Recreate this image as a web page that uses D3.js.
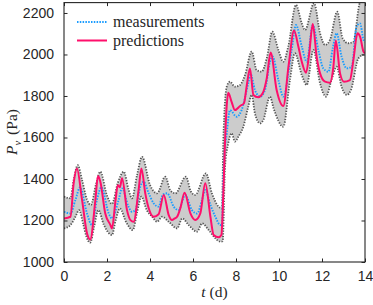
<!DOCTYPE html>
<html>
<head>
<meta charset="utf-8">
<script src="https://cdn.jsdelivr.net/npm/d3@7"></script>
<style>
  body { margin: 0; background: #fff; }
  .tick text { font-family: "Liberation Sans", Arial, sans-serif; font-size: 14px; fill: #262626; }
</style>
</head>
<body>
<div class="pv-chart"></div>
<script>
// predictions (magenta)
const predT = [0, 0.3, 0.45, 0.6, 0.84, 1.07, 1.22, 1.46, 1.58, 1.69, 1.92, 2.16, 2.23, 2.4, 2.5, 2.6, 2.7, 2.93, 3.09, 3.24, 3.47, 3.6, 3.78, 3.94, 4.17, 4.4, 4.64, 4.87, 5.02, 5.15, 5.26, 5.41, 5.61, 5.88, 6.11, 6.34, 6.57, 6.81, 6.96, 7.19, 7.32, 7.4, 7.48, 7.56, 7.64, 7.8, 7.95, 8.19, 8.37, 8.5, 8.65, 8.81, 9.04, 9.24, 9.43, 9.61, 9.89, 10.2, 10.45, 10.7, 10.9, 11.06, 11.26, 11.4, 11.57, 11.75, 11.91, 12.14, 12.37, 12.53, 12.64, 12.84, 13.02, 13.3, 13.46, 13.65, 13.77, 13.93, 14];
const predV = [1210, 1218, 1380, 1451, 1299, 1138, 1108, 1299, 1414, 1387, 1234, 1178, 1162, 1300, 1370, 1360, 1403, 1250, 1202, 1194, 1347, 1451, 1331, 1259, 1218, 1230, 1323, 1226, 1202, 1210, 1218, 1259, 1334, 1234, 1202, 1234, 1379, 1218, 1130, 1119, 1130, 1300, 1550, 1740, 1816, 1770, 1732, 1752, 1765, 1850, 1933, 1805, 1794, 1813, 1885, 2009, 1829, 1752, 1950, 2115, 2038, 1965, 1912, 2000, 2147, 1990, 1909, 1869, 1864, 1941, 2067, 1909, 1869, 1877, 1973, 2102, 2086, 2014, 2006];

// measurements (blue)
const measT = [0, 0.3, 0.53, 0.75, 1.07, 1.3, 1.53, 1.74, 2.08, 2.23, 2.54, 2.7, 3.0, 3.16, 3.32, 3.55, 3.7, 3.94, 4.17, 4.4, 4.6, 4.8, 5.1, 5.33, 5.64, 5.95, 6.19, 6.42, 6.57, 6.81, 7.04, 7.27, 7.35, 7.38, 7.45, 7.57, 7.72, 8.03, 8.26, 8.57, 8.68, 8.88, 9.12, 9.35, 9.58, 9.7, 9.97, 10.2, 10.59, 10.79, 11.06, 11.29, 11.57, 11.83, 12.06, 12.3, 12.5, 12.68, 12.91, 13.15, 13.38, 13.61, 13.77, 13.93, 14];
const measV = [1242, 1234, 1299, 1360, 1234, 1178, 1299, 1360, 1234, 1210, 1299, 1355, 1267, 1242, 1250, 1363, 1387, 1331, 1283, 1267, 1325, 1331, 1267, 1250, 1323, 1250, 1234, 1299, 1347, 1275, 1218, 1178, 1180, 1300, 1500, 1620, 1732, 1700, 1732, 1861, 1906, 1829, 1797, 1829, 1965, 1990, 1877, 1797, 2022, 2142, 2038, 1965, 2142, 2022, 1933, 1917, 2030, 2102, 1990, 1933, 1941, 2134, 2150, 2070, 2060];

// upper bound
const upperT = [0, 0.3, 0.45, 0.64, 0.84, 1.07, 1.25, 1.5, 1.69, 2.0, 2.23, 2.5, 2.78, 3.0, 3.16, 3.4, 3.63, 4.0, 4.33, 4.71, 4.95, 5.18, 5.67, 5.9, 6.1, 6.6, 6.88, 7.19, 7.35, 7.41, 7.57, 7.72, 7.95, 8.19, 8.42, 8.73, 8.96, 9.19, 9.43, 9.69, 9.97, 10.2, 10.43, 10.79, 11.06, 11.21, 11.63, 11.91, 12.14, 12.37, 12.71, 12.96, 13.22, 13.46, 13.77, 14];
const upperV = [1315, 1307, 1395, 1467, 1395, 1300, 1275, 1380, 1435, 1320, 1280, 1380, 1435, 1350, 1307, 1420, 1507, 1371, 1331, 1411, 1345, 1331, 1411, 1340, 1323, 1427, 1331, 1267, 1259, 1588, 1845, 1869, 1845, 1853, 1901, 2014, 1925, 1917, 1981, 2110, 2022, 1965, 2038, 2239, 2150, 2118, 2247, 2102, 2046, 2070, 2206, 2078, 2054, 2062, 2250, 2260];

// lower bound
const lowerT = [0, 0.3, 0.53, 0.7, 0.9, 1.05, 1.22, 1.4, 1.6, 1.85, 2.23, 2.4, 2.6, 2.9, 3.2, 3.4, 3.6, 3.85, 4.1, 4.33, 4.56, 4.87, 5.26, 5.5, 5.8, 6.19, 6.42, 6.73, 7.04, 7.27, 7.38, 7.49, 7.64, 7.8, 7.95, 8.11, 8.34, 8.55, 8.73, 8.88, 9.12, 9.27, 9.58, 9.75, 10.2, 10.51, 10.74, 11.06, 11.29, 11.6, 11.91, 12.18, 12.45, 12.68, 12.91, 13.15, 13.35, 13.69, 13.93, 14];
const lowerV = [1162, 1178, 1218, 1250, 1180, 1120, 1093, 1170, 1250, 1180, 1130, 1200, 1258, 1190, 1154, 1240, 1315, 1250, 1218, 1194, 1218, 1194, 1162, 1210, 1178, 1146, 1186, 1154, 1114, 1098, 1100, 1459, 1572, 1620, 1580, 1604, 1652, 1740, 1805, 1716, 1668, 1684, 1797, 1740, 1652, 1877, 2006, 1901, 1853, 2022, 1861, 1797, 1880, 1941, 1845, 1805, 1830, 1981, 1998, 1995];

const xTicks = [0, 2, 4, 6, 8, 10, 12, 14];
const yTicks = [1000, 1200, 1400, 1600, 1800, 2000, 2200];
const legendLabels = ['measurements', 'predictions'];

const W = 373, H = 305;
const margin = {top: 2.6, right: 8, bottom: 43, left: 64},
    width = W - margin.left - margin.right,
    height = H - margin.top - margin.bottom;

const svg = d3.select('.pv-chart')
    .append('svg')
        .attr('width', W)
        .attr('height', H)
    .append('g')
        .attr('transform', 'translate(' + margin.left + ',' + margin.top + ')');

const xScale = d3.scaleLinear().domain([0, 14]).range([0, width]);
const yScale = d3.scaleLinear().domain([1000, 2250]).range([height, 0]);

svg.append('clipPath').attr('id', 'clip')
    .append('rect').attr('width', width).attr('height', height);

const zip = (ts, vs) => ts.map((t, i) => [t, vs[i]]);
const line = d3.line()
    .x(d => xScale(d[0]))
    .y(d => yScale(d[1]))
    .curve(d3.curveMonotoneX);

const plot = svg.append('g').attr('clip-path', 'url(#clip)');

// grey band between the bounds
const upperPts = zip(upperT, upperV);
const lowerPts = zip(lowerT, lowerV);
const bandLine = d3.line().x(d => xScale(d[0])).y(d => yScale(d[1]));
const smoothPts = function(pts) {
    // sample the monotone curve so the band follows the bound lines
    const tmp = plot.append('path').attr('d', line(pts));
    const node = tmp.node(), len = node.getTotalLength(), out = [];
    for (let s = 0; s <= len; s += 1) {
        const p = node.getPointAtLength(s);
        out.push([xScale.invert(p.x), yScale.invert(p.y)]);
    }
    tmp.remove();
    return out;
};
const band = smoothPts(upperPts).concat(smoothPts(lowerPts).reverse());
plot.append('path')
    .attr('d', bandLine(band) + 'Z')
    .attr('fill', '#cccccc')
    .attr('stroke', 'none');

[upperPts, lowerPts].forEach(pts => {
    plot.append('path')
        .attr('d', line(pts))
        .attr('fill', 'none')
        .attr('stroke', '#555555')
        .attr('stroke-width', 1.8)
        .attr('stroke-dasharray', '1.3,1.4');
});

plot.append('path')
    .attr('d', line(zip(measT, measV)))
    .attr('fill', 'none')
    .attr('stroke', '#1a9cff')
    .attr('stroke-width', 1.9)
    .attr('stroke-dasharray', '1.5,1.3');

plot.append('path')
    .attr('d', line(zip(predT, predV)))
    .attr('fill', 'none')
    .attr('stroke', '#ff0f6b')
    .attr('stroke-width', 2);

// axes, ticks inside like the original
svg.append('g')
    .attr('transform', 'translate(0,' + height + ')')
    .call(d3.axisBottom(xScale).tickValues(xTicks).tickFormat(d3.format('d')).tickSizeInner(-3.5).tickSizeOuter(0).tickPadding(9));
svg.append('g')
    .call(d3.axisTop(xScale).tickValues(xTicks).tickSizeInner(-3.5).tickSizeOuter(0).tickFormat(''));
svg.append('g')
    .call(d3.axisLeft(yScale).tickValues(yTicks).tickFormat(d3.format('d')).tickSizeInner(-3.5).tickSizeOuter(0).tickPadding(10));
svg.append('g')
    .attr('transform', 'translate(' + width + ',0)')
    .call(d3.axisRight(yScale).tickValues(yTicks).tickSizeInner(-3.5).tickSizeOuter(0).tickFormat(''));
svg.selectAll('.domain').remove();
svg.selectAll('.tick line').attr('stroke', '#262626');

svg.append('rect')
    .attr('width', width)
    .attr('height', height)
    .attr('fill', 'none')
    .attr('stroke', '#262626')
    .attr('stroke-width', 1.1);

// legend
const legend = svg.append('g').attr('transform', 'translate(13,' + (22 - margin.top) + ')');
const legendStyle = [
    {stroke: '#1a9cff', width: 1.9, dash: '1.5,1.3'},
    {stroke: '#ff0f6b', width: 2, dash: null}
];
legendLabels.forEach((lab, i) => {
    const g = legend.append('g').attr('transform', 'translate(0,' + (i * 18.5) + ')');
    g.append('line')
        .attr('x1', 0).attr('x2', 30)
        .attr('stroke', legendStyle[i].stroke)
        .attr('stroke-width', legendStyle[i].width)
        .attr('stroke-dasharray', legendStyle[i].dash);
    g.append('text')
        .attr('x', 36)
        .attr('dy', '0.32em')
        .style('font-family', '"Liberation Serif", "DejaVu Serif", serif')
        .style('font-size', '16px')
        .attr('fill', '#262626')
        .text(lab);
});

// axis titles
const xTitle = svg.append('text')
    .attr('x', xScale(7.0))
    .attr('y', 292 - margin.top)
    .attr('dy', '0.35em')
    .attr('text-anchor', 'middle')
    .style('font-family', '"Liberation Serif", "DejaVu Serif", serif')
    .style('font-size', '15.5px')
    .attr('fill', '#262626');
xTitle.append('tspan').style('font-style', 'italic').text('t');
xTitle.append('tspan').text('\u00a0(d)');

const yTitle = svg.append('text')
    .attr('transform', 'translate(' + (12 - margin.left) + ',' + (132 - margin.top) + ') rotate(-90)')
    .attr('dy', '0.35em')
    .attr('text-anchor', 'middle')
    .style('font-family', '"Liberation Serif", "DejaVu Serif", serif')
    .style('font-size', '15.5px')
    .attr('fill', '#262626');
yTitle.append('tspan').style('font-style', 'italic').text('P');
yTitle.append('tspan').style('font-style', 'italic').style('font-size', '10.5px').attr('dy', '4').text('v');
yTitle.append('tspan').attr('dy', '-4').attr('dx', '2').text('\u00a0(Pa)');
</script>
</body>
</html>
